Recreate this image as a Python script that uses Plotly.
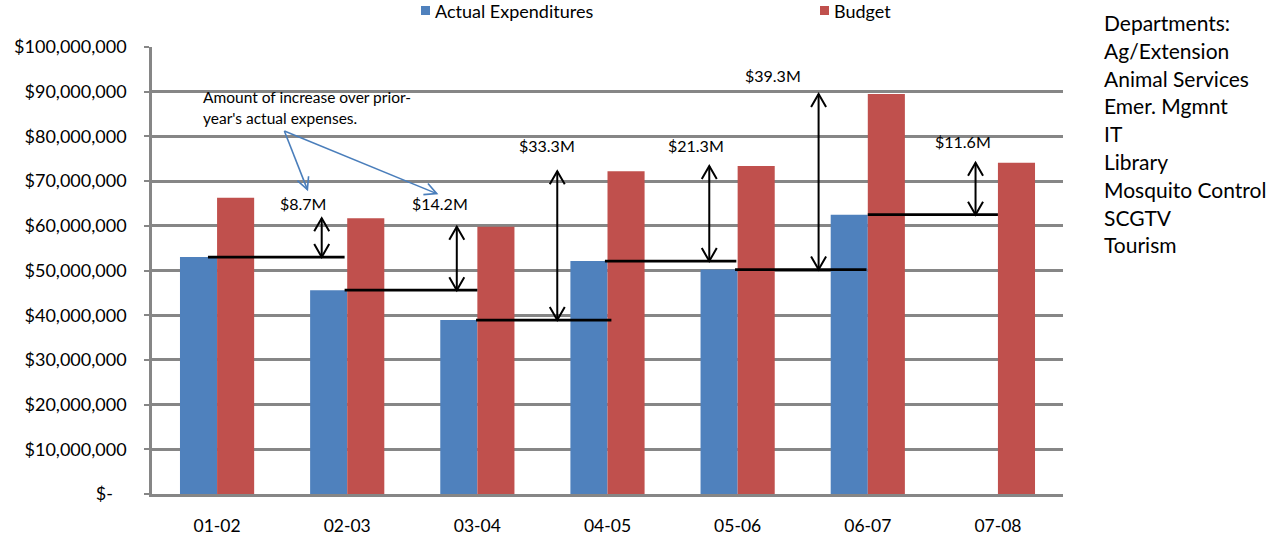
import math
import plotly.graph_objects as go

# ---- data (values in $ millions) ----
years = ["01-02", "02-03", "03-04", "04-05", "05-06", "06-07", "07-08"]
actual_m = [53.0, 45.6, 38.9, 52.1, 50.2, 62.5, None]
budget_m = [66.3, 61.7, 59.8, 72.2, 73.4, 89.5, 74.1]
increase_m = [8.7, 14.2, 33.3, 21.3, 39.3, 11.6]
increase_labels = ["$8.7M", "$14.2M", "$33.3M", "$21.3M", "$39.3M", "$11.6M"]
departments = ["Departments:", "Ag/Extension", "Animal Services", "Emer. Mgmnt", "IT",
               "Library", "Mosquito Control", "SCGTV", "Tourism"]
y_tick_vals_m = [0, 10, 20, 30, 40, 50, 60, 70, 80, 90, 100]
y_tick_text = ["$-\u00a0\u00a0\u00a0", "$10,000,000", "$20,000,000", "$30,000,000",
               "$40,000,000", "$50,000,000", "$60,000,000", "$70,000,000",
               "$80,000,000", "$90,000,000", "$100,000,000"]
callout_text = ["Amount of increase over prior-", "year's actual expenses."]
series_names = ["Actual Expenditures", "Budget"]

M = 1e6
actual = [v * M if v is not None else None for v in actual_m]
budget = [v * M for v in budget_m]

# ---- layout geometry ----
W, H = 1272, 536
ML, MR, MT, MB = 152, 209, 47, 42
PW, PH = W - ML - MR, H - MT - MB
X_RANGE = [-0.5, 6.5]
Y_RANGE = [0, 100 * M]
PX_X = PW / (X_RANGE[1] - X_RANGE[0])   # pixels per category unit
PX_Y = PH / (Y_RANGE[1] - Y_RANGE[0])   # pixels per dollar

BLUE, RED = "#4F81BD", "#C0504D"
GRID = "#868686"
FONT = "Lato, 'Open Sans', sans-serif"


def paper_x(px):
    return (px - ML) / PW


def paper_y(py):
    return (H - MB - py) / PH


# positions of the increase markers (category units / $ millions)
level_start = [-0.07, 0.98, 1.99, 2.98, 3.98, 5.0]
level_end = [0.98, 2.0, 3.03, 3.99, 4.99, 6.0]
arrow_x = [0.804, 1.842, 2.614, 3.782, 4.622, 5.828]
label_x = [0.661, 1.713, 2.537, 3.680, 4.271, 5.731]
label_y_m = [65.0, 65.0, 78.0, 78.0, 93.7, 78.75]

fig = go.Figure()
fig.add_trace(go.Bar(x=list(range(len(years))), y=actual, name=series_names[0],
                     marker=dict(color=BLUE, line=dict(width=0)), showlegend=False))
fig.add_trace(go.Bar(x=list(range(len(years))), y=budget, name=series_names[1],
                     marker=dict(color=RED, line=dict(width=0)), showlegend=False))

shapes = []


def v_head(x, y, up, hw=7.5, hl=13):
    """Open V arrowhead at (x, y) pointing up or down, sized in pixels."""
    dx = hw / PX_X
    dy = hl / PX_Y * (-1 if up else 1)
    return f"M {x - dx},{y + dy} L {x},{y} L {x + dx},{y + dy}"


for i, inc in enumerate(increase_m):
    base = actual[i]
    top = base + inc * M
    # prior-year actual level
    shapes.append(dict(type="line", x0=level_start[i], x1=level_end[i], y0=base, y1=base,
                       line=dict(color="black", width=2.8)))
    # double-headed increase arrow
    x = arrow_x[i]
    shapes.append(dict(type="line", x0=x, x1=x, y0=base, y1=top,
                       line=dict(color="black", width=2)))
    shapes.append(dict(type="path", path=v_head(x, top, True),
                       line=dict(color="black", width=2)))
    shapes.append(dict(type="path", path=v_head(x, base, False),
                       line=dict(color="black", width=2)))

# blue callout arrows from the note to the first two labels
callout_start = (0.517, 81.2 * M)
callout_ends = [(0.694, 68.1 * M), (1.688, 67.2 * M)]
CALLOUT = "#4A7EBB"
for ex, ey in callout_ends:
    sx, sy = callout_start
    shapes.append(dict(type="line", x0=sx, y0=sy, x1=ex, y1=ey,
                       line=dict(color=CALLOUT, width=1.6)))
    # arrowhead computed in pixel space
    vx, vy = (ex - sx) * PX_X, (ey - sy) * PX_Y
    ln = math.hypot(vx, vy)
    ux, uy = vx / ln, vy / ln
    hl, hw = 12, 6
    pts = []
    for s in (1, -1):
        px = -ux * hl + s * (-uy) * hw
        py = -uy * hl + s * ux * hw
        pts.append((ex + px / PX_X, ey + py / PX_Y))
    path = f"M {pts[0][0]},{pts[0][1]} L {ex},{ey} L {pts[1][0]},{pts[1][1]}"
    shapes.append(dict(type="path", path=path, line=dict(color=CALLOUT, width=1.6)))

annotations = []
for lx, ly, txt in zip(label_x, label_y_m, increase_labels):
    annotations.append(dict(x=lx, y=ly * M, text=txt, showarrow=False,
                            xanchor="center", yanchor="middle",
                            font=dict(family=FONT, size=16, color="black")))

for txt, ly in zip(callout_text, [88.8, 84.1]):
    annotations.append(dict(x=-0.125, y=ly * M, text=txt, showarrow=False,
                            xanchor="left", yanchor="middle",
                            font=dict(family=FONT, size=15.5, color="black")))

for k, dep in enumerate(departments):
    ypx = 22.5 + k * 27.8
    annotations.append(dict(xref="paper", yref="paper",
                            x=paper_x(1102), y=paper_y(ypx),
                            text=dep, showarrow=False, xanchor="left", yanchor="middle",
                            font=dict(family=FONT, size=21, color="black")))

# series key along the top edge
for name, color, sq_left in zip(series_names, [BLUE, RED], [421, 820]):
    shapes.append(dict(type="rect", xref="paper", yref="paper",
                       x0=paper_x(sq_left), x1=paper_x(sq_left + 9),
                       y0=paper_y(6), y1=paper_y(15),
                       fillcolor=color, line=dict(width=0)))
    annotations.append(dict(xref="paper", yref="paper", x=paper_x(sq_left + 12),
                            y=paper_y(11.5), text=name, showarrow=False,
                            xanchor="left", yanchor="middle",
                            font=dict(family=FONT, size=18, color="black")))

fig.update_layout(
    width=W, height=H,
    margin=dict(l=ML, r=MR, t=MT, b=MB, pad=0, autoexpand=False),
    paper_bgcolor="white", plot_bgcolor="white",
    barmode="group", bargap=0.43, bargroupgap=0,
    font=dict(family=FONT, color="black"),
    showlegend=False,
    xaxis=dict(range=X_RANGE, tickmode="array", tickvals=list(range(len(years))),
               ticktext=years, showgrid=False, showline=True, linecolor=GRID,
               linewidth=2.5, ticks="", ticklabelstandoff=14, zeroline=False,
               automargin=False,
               tickfont=dict(family=FONT, size=17.5, color="black"), fixedrange=True),
    yaxis=dict(range=Y_RANGE, tickmode="array", tickvals=[v * M for v in y_tick_vals_m],
               ticktext=y_tick_text, showgrid=True, gridcolor=GRID, gridwidth=2.8,
               showline=True, linecolor=GRID, linewidth=2.5, ticks="outside",
               ticklen=5, tickcolor=GRID, tickwidth=2, ticklabelstandoff=14,
               zeroline=False, automargin=False,
               tickfont=dict(family=FONT, size=18, color="black"),
               fixedrange=True),
    shapes=shapes,
    annotations=annotations,
)

fig.write_html("out.html")
